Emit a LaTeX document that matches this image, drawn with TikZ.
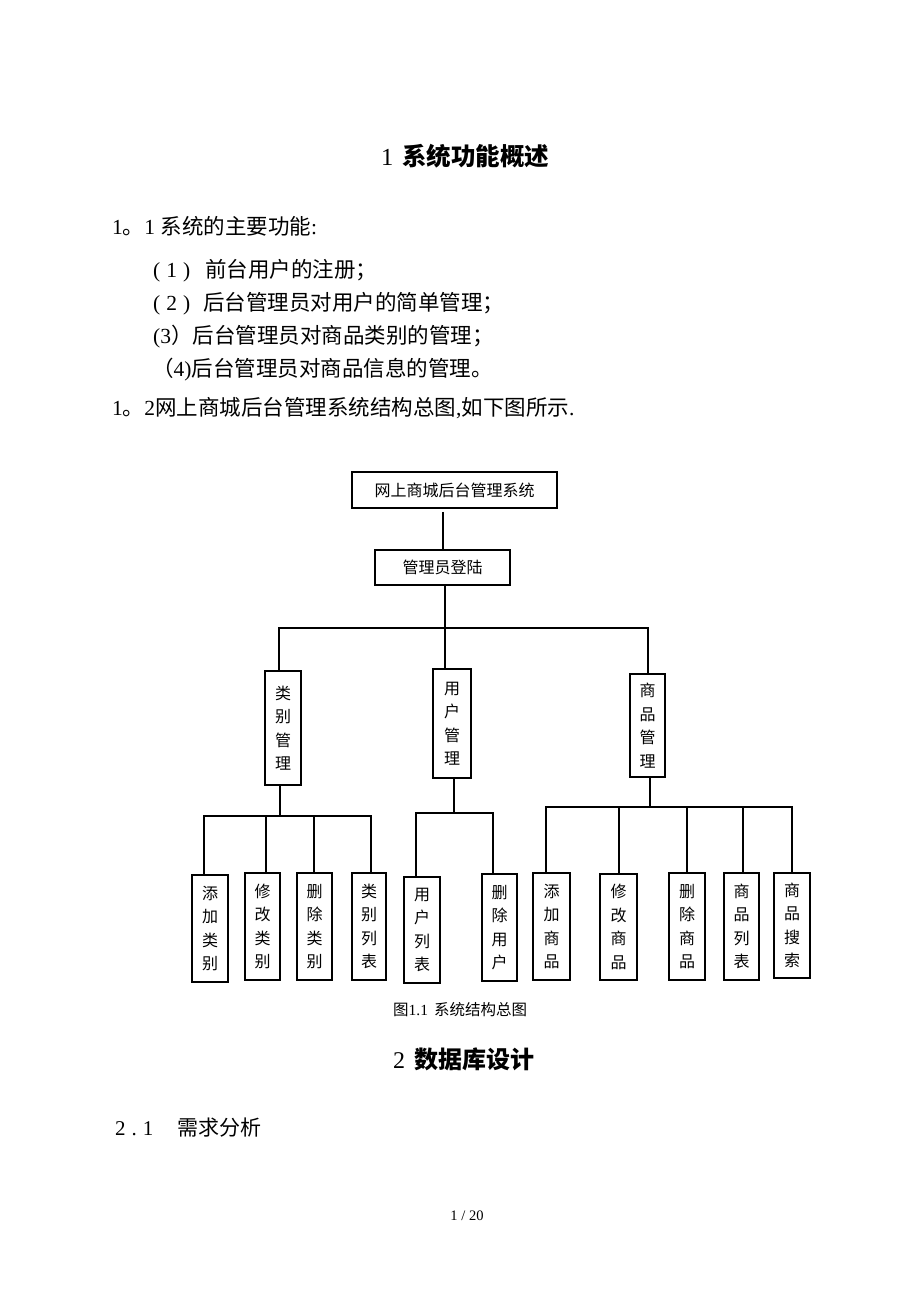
\documentclass[tikz,border=0pt]{standalone}
\usepackage{fontspec}
\setmainfont{Liberation Serif}
\newfontfamily\cjk{Noto Sans CJK SC}
\newcommand\zh[1]{{\cjk #1}}
\begin{document}
\begin{tikzpicture}[x=1pt,y=-1pt,
  txt/.style={anchor=west,inner sep=0pt},
  box/.style={draw,line width=1.5pt,inner sep=0pt,font=\cjk\fontsize{16}{16}\selectfont},
  vbox/.style={box,align=center,font=\cjk\fontsize{16}{23.5}\selectfont},
  link/.style={line width=1.6pt}]
\fill[white] (0,0) rectangle (920,1302);
\useasboundingbox (0,0) rectangle (920,1302);
% ---------- text ----------
\node[txt] (h1) at (381,156) {\fontsize{24.5}{24.5}\selectfont 1\hspace{9pt}{\cjk\bfseries 系统功能概述}};
\node[txt] (s11) at (112,226) {\fontsize{21.5}{21.5}\selectfont 1\zh{。}1 \zh{系统的主要功能}:};
\node[txt] (i1) at (153,270.5) {\fontsize{21.5}{21.5}\selectfont (\hspace{6pt}1\hspace{6pt})\hspace{15pt}\zh{前台用户的注册；}};
\node[txt] (i2) at (153,303.5) {\fontsize{21.5}{21.5}\selectfont (\hspace{6pt}2\hspace{6pt})\hspace{13pt}\zh{后台管理员对用户的简单管理；}};
\node[txt] (i3) at (153,337) {\fontsize{21.5}{21.5}\selectfont (3\zh{）}\zh{后台管理员对商品类别的管理；}};
\node[txt] (i4) at (152,370) {\fontsize{21.5}{21.5}\selectfont \zh{（}4)\zh{后台管理员对商品信息的管理。}};
\node[txt] (s12) at (112,408.5) {\fontsize{21.5}{21.5}\selectfont 1\zh{。}2\zh{网上商城后台管理系统结构总图},\zh{如下图所示}.};
% ---------- diagram ----------
\node[box,minimum width=205,minimum height=36] (top) at (454.5,490) {网上商城后台管理系统};
\node[box,minimum width=135,minimum height=35] (login) at (442.5,567.5) {管理员登陆};
\node[vbox,minimum width=36,minimum height=114] (catm) at (283,728) {类\\别\\管\\理};
\node[vbox,minimum width=38,minimum height=109] (usrm) at (452,723.5) {用\\户\\管\\理};
\node[vbox,minimum width=35,minimum height=103] (prodm) at (647.5,725.5) {商\\品\\管\\理};
\node[vbox,minimum width=36,minimum height=107] (c1) at (210,928.5) {添\\加\\类\\别};
\node[vbox,minimum width=35,minimum height=107] (c2) at (262.5,926.5) {修\\改\\类\\别};
\node[vbox,minimum width=35,minimum height=107] (c3) at (314.5,926.5) {删\\除\\类\\别};
\node[vbox,minimum width=34,minimum height=107] (c4) at (369,926.5) {类\\别\\列\\表};
\node[vbox,minimum width=36,minimum height=106] (u1) at (422,930) {用\\户\\列\\表};
\node[vbox,minimum width=35,minimum height=107] (u2) at (499.5,927.5) {删\\除\\用\\户};
\node[vbox,minimum width=37,minimum height=107] (p1) at (551.5,926.5) {添\\加\\商\\品};
\node[vbox,minimum width=37,minimum height=106] (p2) at (618.5,927) {修\\改\\商\\品};
\node[vbox,minimum width=36,minimum height=107] (p3) at (687,926.5) {删\\除\\商\\品};
\node[vbox,minimum width=35,minimum height=107] (p4) at (741.5,926.5) {商\\品\\列\\表};
\node[vbox,minimum width=36,minimum height=105] (p5) at (792,925.5) {商\\品\\搜\\索};
% connectors
\coordinate (bL) at (279,628);
\coordinate (bR) at (648,628);
\coordinate (cL) at (204,816);
\coordinate (cR) at (371,816);
\coordinate (uL) at (416,813);
\coordinate (uR) at (493,813);
\coordinate (pL) at (546,807);
\coordinate (pR) at (792,807);
\draw[link] ([yshift=-3pt,xshift=0.5pt]top.south -| login.north) -- ([xshift=0.5pt]login.north);
\draw[link] ([xshift=2.5pt]login.south) -- ([xshift=2.5pt]login.south |- usrm.north);
\draw[link] (catm.north -| bL) -- (bL) -- (bR) -- (prodm.north -| bR);
\draw[link] ([xshift=-3pt]catm.south) -- ([xshift=-3pt]catm.south |- cL);
\draw[link] (c1.north -| cL) -- (cL) -- (cR) -- (c4.north -| cR);
\draw[link] ([xshift=3.5pt]c2.north) -- ([xshift=3.5pt]c2.north |- cL);
\draw[link] ([xshift=-0.5pt]c3.north) -- ([xshift=-0.5pt]c3.north |- cL);
\draw[link] ([xshift=2pt]usrm.south) -- ([xshift=2pt]usrm.south |- uL);
\draw[link] (u1.north -| uL) -- (uL) -- (uR) -- (u2.north -| uR);
\draw[link] ([xshift=2.5pt]prodm.south) -- ([xshift=2.5pt]prodm.south |- pL);
\draw[link] (p1.north -| pL) -- (pL) -- (pR) -- (p5.north -| pR);
\draw[link] ([xshift=0.5pt]p2.north) -- ([xshift=0.5pt]p2.north |- pL);
\draw[link] (p3.north) -- (p3.north |- pL);
\draw[link] ([xshift=1.5pt]p4.north) -- ([xshift=1.5pt]p4.north |- pL);
% ---------- lower text ----------
\node[txt] (cap) at (393,1010) {\fontsize{15.5}{15.5}\selectfont \zh{图}1.1\hspace{6pt}\zh{系统结构总图}};
\node[txt] (h2) at (393,1059) {\fontsize{24}{24}\selectfont 2\hspace{9pt}{\cjk\bfseries 数据库设计}};
\node[txt] (s21) at (115,1128) {\fontsize{21}{21}\selectfont 2\hspace{6pt}.\hspace{6pt}1\hspace{24pt}\zh{需求分析}};
\node[inner sep=0pt] (pg) at (467,1216) {\fontsize{14.5}{14.5}\selectfont 1 / 20};
\end{tikzpicture}
\end{document}
